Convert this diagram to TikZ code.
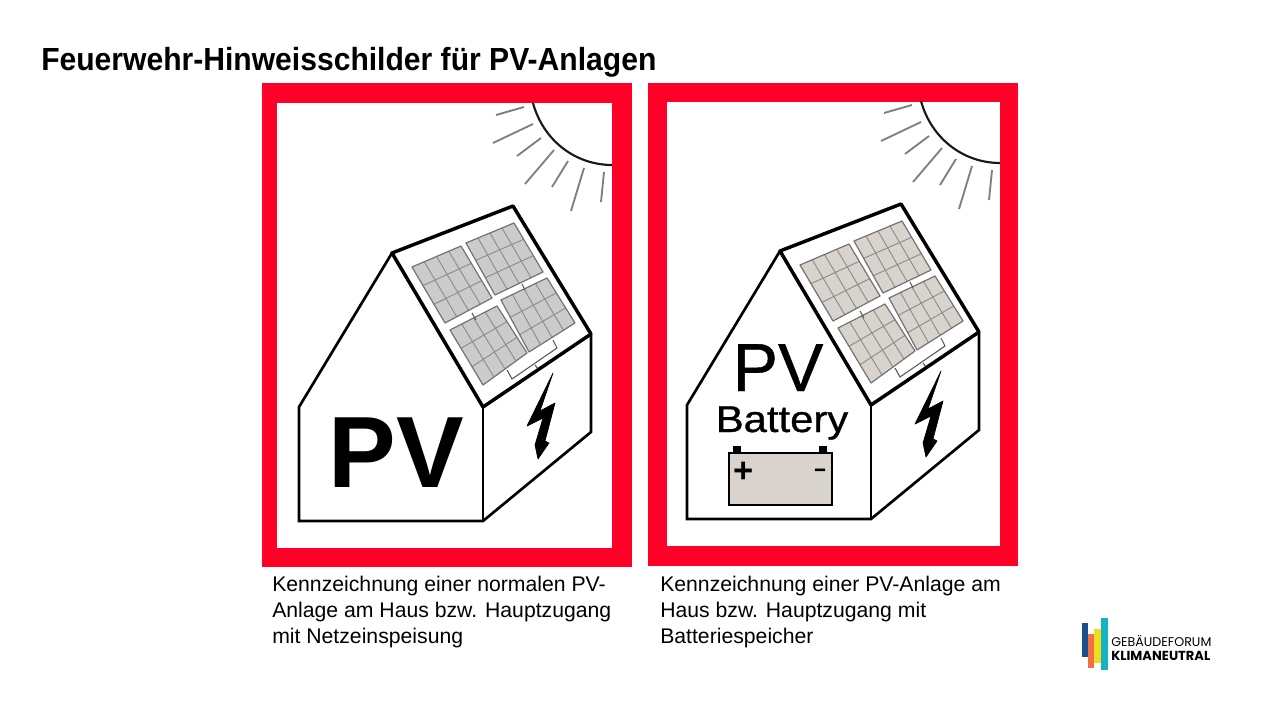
\documentclass[tikz,border=0pt]{standalone}
\usepackage{fontspec}
\setmainfont{Liberation Sans}
\newfontfamily\logofont{Poppins}
\usetikzlibrary{calc}
\definecolor{signred}{HTML}{FF0029}
\definecolor{rayc}{HTML}{808080}
\definecolor{panelA}{HTML}{CBCBCB}
\definecolor{panelB}{HTML}{D9D3CE}
\definecolor{logoblue}{HTML}{1A4F8F}
\definecolor{logoorange}{HTML}{F07048}
\definecolor{logoyellow}{HTML}{F2DC1F}
\definecolor{logoteal}{HTML}{12B5BF}
\tikzset{
 redframe/.style={fill=signred,draw=none},
 innerwhite/.style={fill=white,draw=none},
 ray/.style={draw=rayc,line width=1.4pt},
 sunarc/.style={draw=black!90,line width=1.6pt},
 roofline/.style={draw=black,line width=2.6pt,line join=round},
 wallline/.style={draw=black,line width=2pt,line join=miter},
 paneledge/.style={draw=black!55,line width=.9pt,line join=round},
 gridline/.style={draw=black!45,line width=.7pt},
 boxline/.style={draw=black!65,line width=.8pt},
 titletext/.style={anchor=base west,inner sep=0pt,font=\fontsize{24}{26}\selectfont\bfseries},
 bodytext/.style={anchor=base west,inner sep=0pt,font=\fontsize{15.9}{18}\selectfont},
}
\newcommand{\solarpanel}[5]{%
 \coordinate (pa) at #1; \coordinate (pb) at #2; \coordinate (pc) at #3; \coordinate (pd) at #4;
 \fill[#5] (pa)--(pb)--(pc)--(pd)--cycle;
 \foreach \t in {.25,.5,.75} \draw[gridline] ($(pa)!\t!(pb)$)--($(pd)!\t!(pc)$);
 \foreach \t in {.333,.667} \draw[gridline] ($(pa)!\t!(pd)$)--($(pb)!\t!(pc)$);
 \draw[paneledge] (pa)--(pb)--(pc)--(pd)--cycle;
}
\newcommand{\housebase}[1]{%
 \draw[sunarc] (533,103) .. controls (543,140) and (575,165) .. (612,165);
 \draw[ray] (496,115)--(524,107);
 \draw[ray] (493,143)--(533,124);
 \draw[ray] (517,156)--(541,138);
 \draw[ray] (525,184)--(554,150);
 \draw[ray] (552,187)--(568,161);
 \draw[ray] (571,211)--(584,168);
 \draw[ray] (601,202)--(604,172);
 \solarpanel{(412,267)}{(461,246)}{(492,298)}{(445,323)}{#1}
 \solarpanel{(466,243)}{(514,223)}{(543,272)}{(495,295)}{#1}
 \solarpanel{(450,330)}{(497,306)}{(527,353)}{(483,385)}{#1}
 \solarpanel{(501,300)}{(547,278)}{(575,323)}{(529,352)}{#1}
 \draw[boxline] (507,370)--(512,379)--(557,348)--(553,340);
 \draw[boxline] (535,365)--(538,369);
 \draw[boxline] (472,313)--(476,320);
 \draw[boxline] (522,284)--(525,290);
 \draw[wallline] (392,253)--(299,407)--(299,521)--(483,521)--(591,432)--(591,334);
 \draw[wallline] (483,407)--(483,521);
 \draw[roofline] (392,253)--(513,206)--(591,334)--(483,407)--cycle;
 \fill[black,draw=black,line width=.5pt,line join=round] (553,373)--(527,426)--(543,418)--(535,445)--(538,459)--(549,443)--(545,441)--(555,403)--(540,411)--cycle;
}
\begin{document}
\begin{tikzpicture}[x=.75pt,y=-.75pt]
\useasboundingbox (0,0) rectangle (1280,720);
\fill[white] (0,0) rectangle (1280,720);
\node[titletext,xscale=.94] (title) at (41,71) {Feuerwehr-Hinweisschilder für PV-Anlagen};
\fill[redframe] (262,83) rectangle (632,567);
\fill[innerwhite] (277,103) rectangle (612,548);
\housebase{panelA}
\node[anchor=base,inner sep=0pt,font=\fontsize{76}{80}\selectfont\bfseries] (pvA) at (396,487) {PV};
\fill[redframe] (648,83) rectangle (1018,566);
\fill[innerwhite] (667,102) rectangle (1000,546);
\begin{scope}[shift={(388,-2)}]
\housebase{panelB}
\end{scope}
\node[anchor=base,inner sep=0pt,font=\fontsize{51}{54}\selectfont\addfontfeature{FakeBold=0.6}] (pvB) at (778,391) {PV};
\node[anchor=base,inner sep=0pt,xscale=1.12,font=\fontsize{28}{30}\selectfont\addfontfeature{FakeBold=0.8}] (batt) at (782,432) {Battery};
\fill[black] (733,446) rectangle (741,454);
\fill[black] (819,446) rectangle (827,454);
\draw[fill=panelB,draw=black,line width=2pt] (729,453) rectangle (832,505);
\node[inner sep=0pt,font=\fontsize{26}{26}\selectfont\bfseries] (plus) at (744,472) {+};
\node[inner sep=0pt,font=\fontsize{15}{15}\selectfont\bfseries\addfontfeature{FakeBold=2}] (minus) at (820,472) {–};
\node[bodytext] (c1) at (272,591.5) {Kennzeichnung einer normalen PV-};
\node[bodytext] (c2) at (272,617.5) {Anlage am Haus bzw. Hauptzugang};
\node[bodytext] (c3) at (272,643.5) {mit Netzeinspeisung};
\node[bodytext] (d1) at (660,591.5) {Kennzeichnung einer PV-Anlage am};
\node[bodytext] (d2) at (660,617.5) {Haus bzw. Hauptzugang mit};
\node[bodytext] (d3) at (660,643.5) {Batteriespeicher};
\fill[logoblue] (1082,623) rectangle (1088,657);
\fill[logoorange] (1088,634) rectangle (1094,668);
\fill[logoyellow] (1094,629) rectangle (1101,663);
\fill[logoteal] (1101,618) rectangle (1108,670);
\node[anchor=base west,inner sep=0pt,font=\logofont\fontsize{9.5}{10}\selectfont] (l1) at (1111,646) {GEBÄUDEFORUM};
\node[anchor=base west,inner sep=0pt,font=\logofont\bfseries\fontsize{9.8}{10}\selectfont] (l2) at (1111,660) {KLIMANEUTRAL};
\end{tikzpicture}
\end{document}
